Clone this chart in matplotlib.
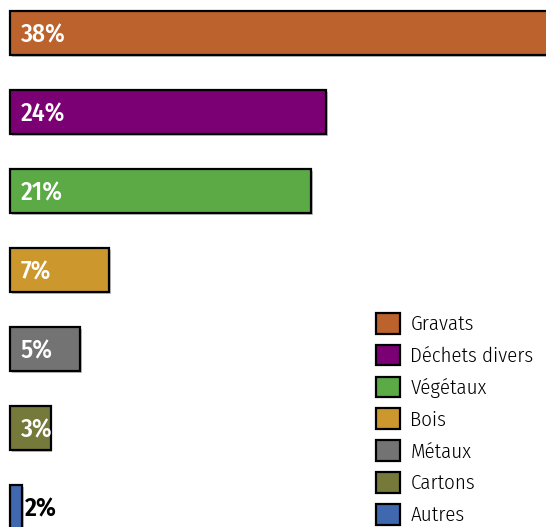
import matplotlib
matplotlib.use("Agg")
import matplotlib.pyplot as plt
import matplotlib.patheffects as pe

categories = ["Gravats", "Déchets divers", "Végétaux", "Bois", "Métaux", "Cartons", "Autres"]
values = [39.0, 22.6, 21.5, 7.1, 5.0, 2.9, 0.85]
labels = ["38%", "24%", "21%", "7%", "5%", "3%", "2%"]
colors = ["#BC622C", "#7B0073", "#5BAA45", "#CC982E", "#737373", "#757A3A", "#3F68AE"]

FONT = ["Fira Sans Condensed", "DejaVu Sans"]

fig = plt.figure(figsize=(5.46, 5.27), dpi=100)
ax = fig.add_axes([0, 0, 1, 1])
scale = 14.0
ax.set_xlim(-10 / scale, (546 - 10) / scale)
ax.set_ylim((527 - 33) / 79, -33 / 79)
ax.axis("off")

pos = list(range(len(categories)))
bars = ax.barh(pos, values, height=44 / 79, color=colors, edgecolor="black",
               linewidth=1.6)
for b, c in zip(bars, categories):
    b.set_label(c)
    b.set_path_effects([pe.SimplePatchShadow(offset=(1.2, -1.2), shadow_rgbFace="#999999", alpha=0.6), pe.Normal()])

for i, (v, lab) in enumerate(zip(values, labels)):
    if v > 2:
        ax.text(11 / scale, i + 0.03, lab, color="white", fontsize=18.5, va="center",
                ha="left", family=FONT, fontweight=500)
    else:
        ax.text(v + 3 / scale, i + 0.03, lab, color="black", fontsize=18.5, va="center",
                ha="left", family=FONT, fontweight=600)

leg = ax.legend(handles=list(bars), loc="upper left", bbox_to_anchor=(376 / 546, 1 - 313 / 527),
                frameon=False, handlelength=1.15, handleheight=1.15, handletextpad=0.5,
                labelspacing=0.5, borderpad=0, borderaxespad=0,
                prop={"family": FONT, "size": 15, "weight": 300})
for h in leg.legend_handles:
    h.set_path_effects([])
    h.set_linewidth(1.6)

fig.savefig("out.png", dpi=100)
